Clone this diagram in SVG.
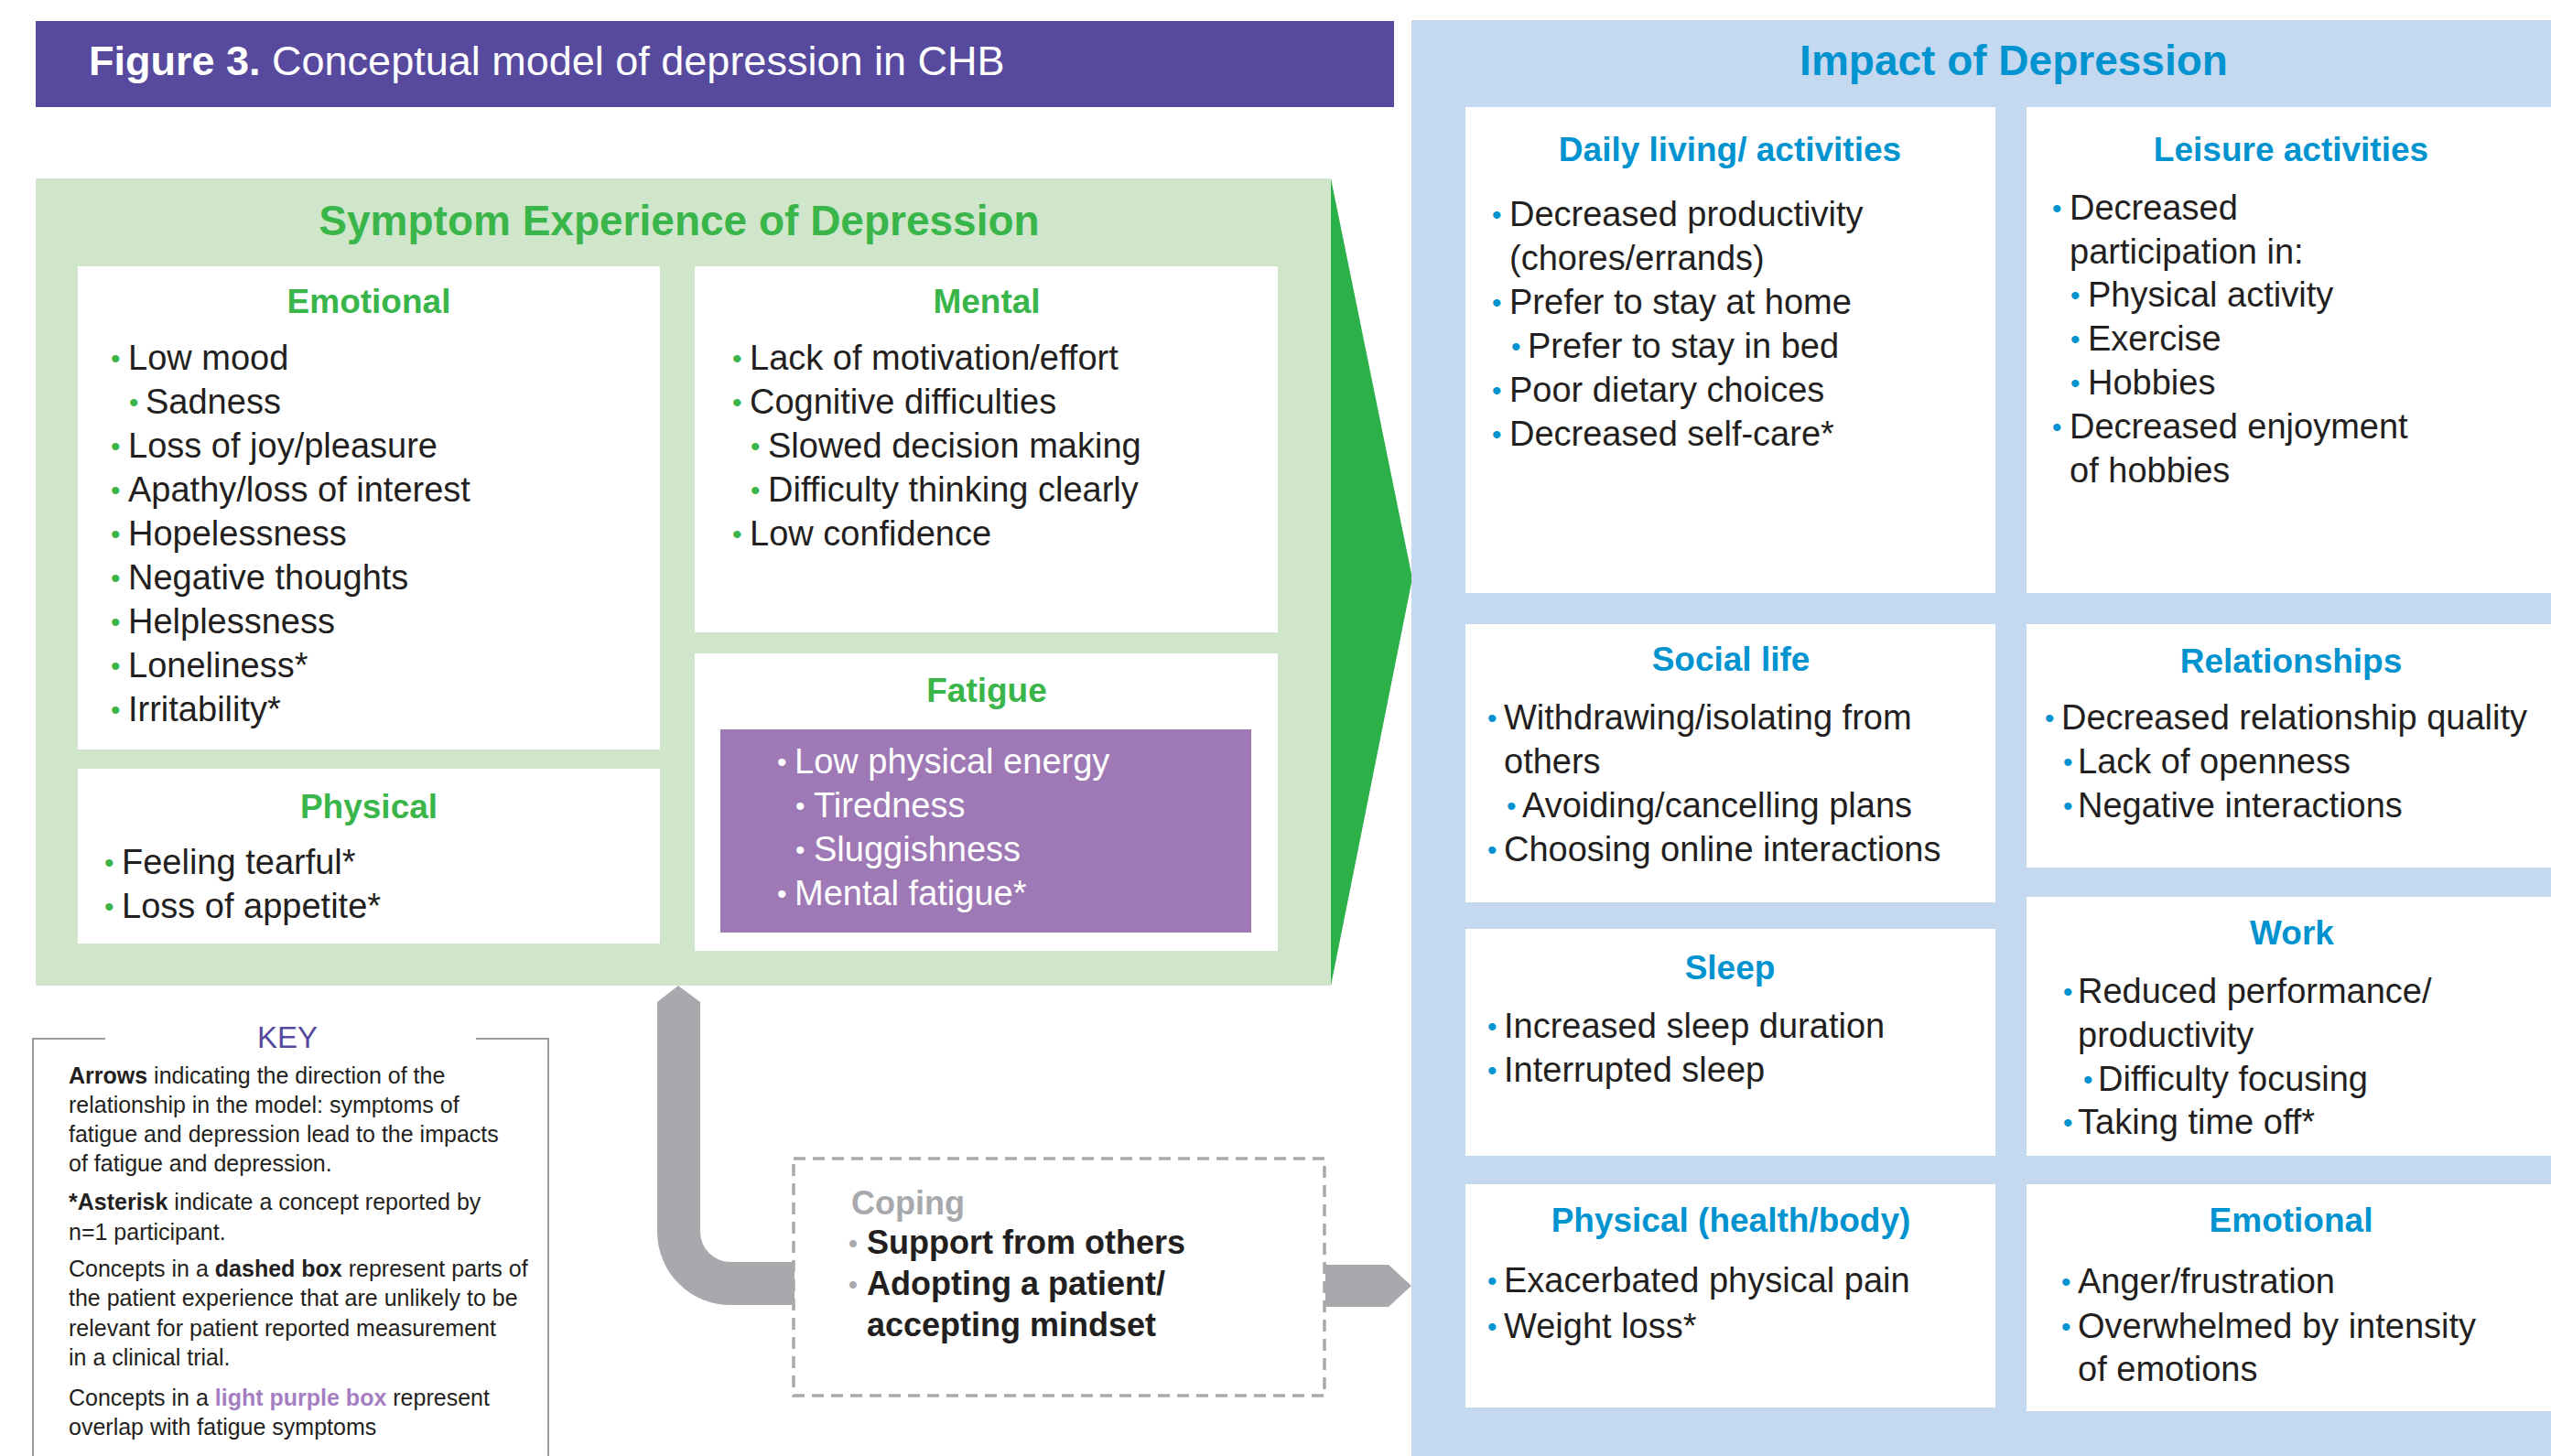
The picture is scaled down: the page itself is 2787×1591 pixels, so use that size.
<svg xmlns="http://www.w3.org/2000/svg" width="2787" height="1591" viewBox="0 0 2787 1591">
<style>
text{font-family:"Liberation Sans",Arial,sans-serif;}
.it{font-size:38px;fill:#231f20;}
.wt{font-size:38px;fill:#ffffff;}
.bg{fill:#39b54a;font-size:30px;}
.bb{fill:#0093d0;font-size:30px;}
.bw{fill:#ffffff;font-size:30px;}
.hg{font-size:37px;font-weight:bold;fill:#39b54a;text-anchor:middle;}
.hb{font-size:37px;font-weight:bold;fill:#0093d0;text-anchor:middle;}
.box{fill:#ffffff;}
.key{font-size:25px;fill:#231f20;}
.cp{font-size:36px;font-weight:bold;fill:#231f20;}
</style>

<g id="header">
<rect x="39" y="23" width="1484" height="94" fill="#574a9e"/>
<text x="97" y="82" font-size="45" fill="#ffffff"><tspan font-weight="bold">Figure 3.</tspan> Conceptual model of depression in CHB</text>
</g>

<g id="symptom-panel">
<rect x="39" y="195" width="1415" height="882" fill="#cfe6cb"/>
<polygon points="1454,195 1543,632 1454,1077" fill="#2bb04a"/>
<text x="742" y="257" font-size="46" font-weight="bold" fill="#39b54a" text-anchor="middle">Symptom Experience of Depression</text>
</g>

<g id="emotional-left">
<rect class="box" x="85" y="291" width="636" height="528"/>
<text class="hg" x="403" y="342">Emotional</text>
<text class="it"><tspan class="bg" x="121" y="402">•</tspan><tspan x="140" y="404">Low mood</tspan></text>
<text class="it"><tspan class="bg" x="141" y="450">•</tspan><tspan x="159" y="452">Sadness</tspan></text>
<text class="it"><tspan class="bg" x="121" y="498">•</tspan><tspan x="140" y="500">Loss of joy/pleasure</tspan></text>
<text class="it"><tspan class="bg" x="121" y="546">•</tspan><tspan x="140" y="548">Apathy/loss of interest</tspan></text>
<text class="it"><tspan class="bg" x="121" y="594">•</tspan><tspan x="140" y="596">Hopelessness</tspan></text>
<text class="it"><tspan class="bg" x="121" y="642">•</tspan><tspan x="140" y="644">Negative thoughts</tspan></text>
<text class="it"><tspan class="bg" x="121" y="690">•</tspan><tspan x="140" y="692">Helplessness</tspan></text>
<text class="it"><tspan class="bg" x="121" y="738">•</tspan><tspan x="140" y="740">Loneliness*</tspan></text>
<text class="it"><tspan class="bg" x="121" y="786">•</tspan><tspan x="140" y="788">Irritability*</tspan></text>
</g>

<g id="mental">
<rect class="box" x="759" y="291" width="637" height="400"/>
<text class="hg" x="1078" y="342">Mental</text>
<text class="it"><tspan class="bg" x="800" y="402">•</tspan><tspan x="819" y="404">Lack of motivation/effort</tspan></text>
<text class="it"><tspan class="bg" x="800" y="450">•</tspan><tspan x="819" y="452">Cognitive difficulties</tspan></text>
<text class="it"><tspan class="bg" x="820" y="498">•</tspan><tspan x="839" y="500">Slowed decision making</tspan></text>
<text class="it"><tspan class="bg" x="820" y="546">•</tspan><tspan x="839" y="548">Difficulty thinking clearly</tspan></text>
<text class="it"><tspan class="bg" x="800" y="594">•</tspan><tspan x="819" y="596">Low confidence</tspan></text>
</g>

<g id="physical-left">
<rect class="box" x="85" y="840" width="636" height="191"/>
<text class="hg" x="403" y="894">Physical</text>
<text class="it"><tspan class="bg" x="114" y="953">•</tspan><tspan x="133" y="955">Feeling tearful*</tspan></text>
<text class="it"><tspan class="bg" x="114" y="1001">•</tspan><tspan x="133" y="1003">Loss of appetite*</tspan></text>
</g>

<g id="fatigue">
<rect class="box" x="759" y="714" width="637" height="325"/>
<text class="hg" x="1078" y="767">Fatigue</text>
<rect x="787" y="797" width="580" height="222" fill="#9e79b5"/>
<text class="wt"><tspan class="bw" x="849" y="843">•</tspan><tspan x="868" y="845">Low physical energy</tspan></text>
<text class="wt"><tspan class="bw" x="869" y="891">•</tspan><tspan x="889" y="893">Tiredness</tspan></text>
<text class="wt"><tspan class="bw" x="869" y="939">•</tspan><tspan x="889" y="941">Sluggishness</tspan></text>
<text class="wt"><tspan class="bw" x="849" y="987">•</tspan><tspan x="868" y="989">Mental fatigue*</tspan></text>
</g>

<g id="key">
<path d="M115,1135 H36 V1591 M520,1135 H599 V1591" fill="none" stroke="#9a9c9f" stroke-width="2"/>
<text x="314" y="1145" font-size="33" fill="#574a9e" text-anchor="middle">KEY</text>
<text class="key" x="75" y="1184"><tspan font-weight="bold">Arrows</tspan> indicating the direction of the</text>
<text class="key" x="75" y="1216">relationship in the model: symptoms of</text>
<text class="key" x="75" y="1248">fatigue and depression lead to the impacts</text>
<text class="key" x="75" y="1280">of fatigue and depression.</text>
<text class="key" x="75" y="1322"><tspan font-weight="bold">*Asterisk</tspan> indicate a concept reported by</text>
<text class="key" x="75" y="1355">n=1 participant.</text>
<text class="key" x="75" y="1395">Concepts in a <tspan font-weight="bold">dashed box</tspan> represent parts of</text>
<text class="key" x="75" y="1427">the patient experience that are unlikely to be</text>
<text class="key" x="75" y="1460">relevant for patient reported measurement</text>
<text class="key" x="75" y="1492">in a clinical trial.</text>
<text class="key" x="75" y="1536">Concepts in a <tspan font-weight="bold" fill="#a57fc2">light purple box</tspan> represent</text>
<text class="key" x="75" y="1568">overlap with fatigue symptoms</text>
</g>

<g id="coping">
<rect x="867" y="1266" width="580" height="259" fill="none" stroke="#a7a9ac" stroke-width="3.5" stroke-dasharray="13 8"/>
<text x="930" y="1327" font-size="36" font-weight="bold" fill="#a7a9ac">Coping</text>
<text class="cp"><tspan x="927" y="1368" fill="#a7a9ac" font-size="28">•</tspan><tspan x="947" y="1370">Support from others</tspan></text>
<text class="cp"><tspan x="927" y="1413" fill="#a7a9ac" font-size="28">•</tspan><tspan x="947" y="1415">Adopting a patient/</tspan></text>
<text class="cp" x="947" y="1460">accepting mindset</text>
</g>

<g id="impact-panel">
<rect x="1542" y="22" width="1245" height="1569" fill="#c4d9f0"/>
<text x="2200" y="82" font-size="46" font-weight="bold" fill="#0093d0" text-anchor="middle">Impact of Depression</text>
</g>

<g id="daily-living">
<rect class="box" x="1601" y="117" width="579" height="531"/>
<text class="hb" x="1890" y="176">Daily living/ activities</text>
<text class="it"><tspan class="bb" x="1630" y="245">•</tspan><tspan x="1649" y="247">Decreased productivity</tspan></text>
<text class="it" x="1649" y="295">(chores/errands)</text>
<text class="it"><tspan class="bb" x="1630" y="341">•</tspan><tspan x="1649" y="343">Prefer to stay at home</tspan></text>
<text class="it"><tspan class="bb" x="1651" y="389">•</tspan><tspan x="1669" y="391">Prefer to stay in bed</tspan></text>
<text class="it"><tspan class="bb" x="1630" y="437">•</tspan><tspan x="1649" y="439">Poor dietary choices</tspan></text>
<text class="it"><tspan class="bb" x="1630" y="485">•</tspan><tspan x="1649" y="487">Decreased self-care*</tspan></text>
</g>

<g id="leisure">
<rect class="box" x="2214" y="117" width="573" height="531"/>
<text class="hb" x="2503" y="176">Leisure activities</text>
<text class="it"><tspan class="bb" x="2242" y="238">•</tspan><tspan x="2261" y="240">Decreased</tspan></text>
<text class="it" x="2261" y="288">participation in:</text>
<text class="it"><tspan class="bb" x="2262" y="333">•</tspan><tspan x="2281" y="335">Physical activity</tspan></text>
<text class="it"><tspan class="bb" x="2262" y="381">•</tspan><tspan x="2281" y="383">Exercise</tspan></text>
<text class="it"><tspan class="bb" x="2262" y="429">•</tspan><tspan x="2281" y="431">Hobbies</tspan></text>
<text class="it"><tspan class="bb" x="2242" y="477">•</tspan><tspan x="2261" y="479">Decreased enjoyment</tspan></text>
<text class="it" x="2261" y="527">of hobbies</text>
</g>

<g id="social-life">
<rect class="box" x="1601" y="682" width="579" height="304"/>
<text class="hb" x="1891" y="733">Social life</text>
<text class="it"><tspan class="bb" x="1625" y="795">•</tspan><tspan x="1643" y="797">Withdrawing/isolating from</tspan></text>
<text class="it" x="1643" y="845">others</text>
<text class="it"><tspan class="bb" x="1646" y="891">•</tspan><tspan x="1663" y="893">Avoiding/cancelling plans</tspan></text>
<text class="it"><tspan class="bb" x="1625" y="939">•</tspan><tspan x="1643" y="941">Choosing online interactions</tspan></text>
</g>

<g id="relationships">
<rect class="box" x="2214" y="682" width="573" height="266"/>
<text class="hb" x="2503" y="735">Relationships</text>
<text class="it"><tspan class="bb" x="2234" y="795">•</tspan><tspan x="2252" y="797">Decreased relationship quality</tspan></text>
<text class="it"><tspan class="bb" x="2254" y="843">•</tspan><tspan x="2270" y="845">Lack of openness</tspan></text>
<text class="it"><tspan class="bb" x="2254" y="891">•</tspan><tspan x="2270" y="893">Negative interactions</tspan></text>
</g>

<g id="sleep">
<rect class="box" x="1601" y="1015" width="579" height="248"/>
<text class="hb" x="1890" y="1070">Sleep</text>
<text class="it"><tspan class="bb" x="1625" y="1132">•</tspan><tspan x="1643" y="1134">Increased sleep duration</tspan></text>
<text class="it"><tspan class="bb" x="1625" y="1180">•</tspan><tspan x="1643" y="1182">Interrupted sleep</tspan></text>
</g>

<g id="work">
<rect class="box" x="2214" y="980" width="573" height="283"/>
<text class="hb" x="2504" y="1032">Work</text>
<text class="it"><tspan class="bb" x="2254" y="1094">•</tspan><tspan x="2270" y="1096">Reduced performance/</tspan></text>
<text class="it" x="2270" y="1144">productivity</text>
<text class="it"><tspan class="bb" x="2276" y="1190">•</tspan><tspan x="2292" y="1192">Difficulty focusing</tspan></text>
<text class="it"><tspan class="bb" x="2254" y="1237">•</tspan><tspan x="2270" y="1239">Taking time off*</tspan></text>
</g>

<g id="physical-health">
<rect class="box" x="1601" y="1294" width="579" height="244"/>
<text class="hb" x="1891" y="1346">Physical (health/body)</text>
<text class="it"><tspan class="bb" x="1625" y="1410">•</tspan><tspan x="1643" y="1412">Exacerbated physical pain</tspan></text>
<text class="it"><tspan class="bb" x="1625" y="1460">•</tspan><tspan x="1643" y="1462">Weight loss*</tspan></text>
</g>

<g id="emotional-right">
<rect class="box" x="2214" y="1294" width="573" height="248"/>
<text class="hb" x="2503" y="1346">Emotional</text>
<text class="it"><tspan class="bb" x="2252" y="1411">•</tspan><tspan x="2270" y="1413">Anger/frustration</tspan></text>
<text class="it"><tspan class="bb" x="2252" y="1460">•</tspan><tspan x="2270" y="1462">Overwhelmed by intensity</tspan></text>
<text class="it" x="2270" y="1509">of emotions</text>
</g>

<g id="connectors">
<path d="M741,1077 L765,1095 L765,1346 A33,33 0 0 0 798,1379 L868,1379 L868,1426 L798,1426 A80,80 0 0 1 718,1346 L718,1095 Z" fill="#a7a9ac"/>
<polygon points="1448,1382 1517,1382 1542,1405 1517,1428 1448,1428" fill="#a7a9ac"/>
</g>
</svg>
